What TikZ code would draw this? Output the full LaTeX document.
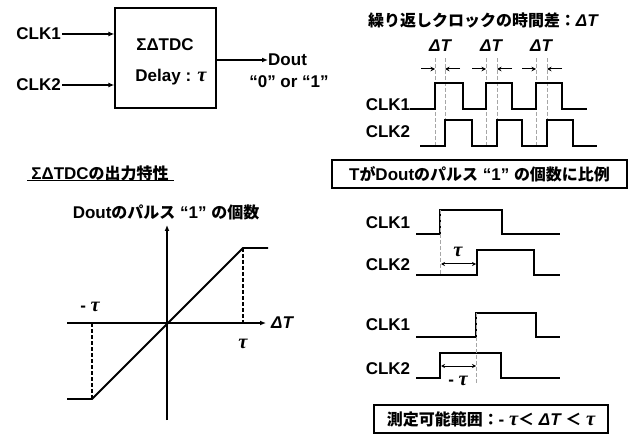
\documentclass[tikz,border=0pt]{standalone}
\usepackage{fontspec}
\setmainfont{Liberation Sans}
\newfontfamily\jp{Noto Sans CJK JP}[Scale=0.94]
\newfontfamily\serifgr{Liberation Serif}[Scale=1.2]
\usetikzlibrary{arrows.meta}
\newcommand\mytau{{\serifgr\bfseries\itshape τ}}
\newcommand\mydT{{\itshape ΔT}}
\begin{document}
\begin{tikzpicture}[x=1bp,y=-1bp,
  txt/.style={font=\bfseries\fontsize{17bp}{20bp}\selectfont, inner sep=0pt},
  arr/.style={line width=1.3bp, -{Latex[length=6bp,width=5bp]}},
  wave/.style={line width=1.8bp, line join=miter},
  gdash/.style={line width=1bp, dash pattern=on 4bp off 2bp, gray!70},
  kdash/.style={line width=1.2bp, dash pattern=on 4bp off 2bp},
  axis/.style={line width=1.8bp},
  dim/.style={line width=1bp, {Stealth[length=4bp,width=4bp]}-{Stealth[length=4bp,width=4bp]}},
  small/.style={line width=1bp, -{Stealth[length=4.5bp,width=4.5bp]}},
  framebox/.style={draw, line width=1.3bp, inner sep=0pt}
]
\useasboundingbox (0,0) rectangle (630,437);

% ---------- block diagram ----------
\node[framebox, minimum width=101bp, minimum height=100bp] (tdc) at (165.5,58) {};
\node[txt] (tdcname) at (165,45) {ΣΔTDC};
\node[txt] (tdcdelay) at (171,77) {Delay : \mytau};
\node[txt, anchor=east] (in1) at (61,34) {CLK1};
\node[txt, anchor=east] (in2) at (61,85) {CLK2};
\draw[arr] ([xshift=1bp]in1.east) -- (in1.east -| tdc.west);
\draw[arr] ([xshift=1bp]in2.east) -- (in2.east -| tdc.west);
\node[txt, anchor=west] (dout) at (268,60) {Dout};
\node[txt] (dval) at (289,82) {“0” or “1”};
\draw[arr] (tdc.east |- dout.west) -- (dout.west);

% ---------- repeated clock ----------
\node[txt] (ttl) at (483,20) {{\jp 繰り返しクロックの時間差：}\mydT};
\node[txt] (d1) at (440,46) {\mydT};
\node[txt] (d2) at (491,46) {\mydT};
\node[txt] (d3) at (541,46) {\mydT};
\foreach \a/\b [count=\i] in {435/445,486/497,536/547}{
  \coordinate (la\i) at (\a,69);
  \coordinate (lb\i) at (\b,69);
  \draw[gdash] (\a,58) -- (\a,147);
  \draw[gdash] (\b,58) -- (\b,147);
  \draw[small] ([xshift=-14bp]la\i) -- (la\i);
  \draw[small] ([xshift=15bp]lb\i) -- (lb\i);
}
\node[txt] (rc1) at (388,105) {CLK1};
\node[txt] (rc2) at (388,132) {CLK2};
\draw[wave] (410,109) -- (435,109) -- (435,83) -- (463,83) -- (463,109) -- (486,109) -- (486,83) -- (512,83) -- (512,109) -- (536,109) -- (536,83) -- (562,83) -- (562,109) -- (587,109);
\draw[wave] (420,146) -- (445,146) -- (445,120) -- (472,120) -- (472,146) -- (497,146) -- (497,120) -- (522,120) -- (522,146) -- (547,146) -- (547,120) -- (573,120) -- (573,146) -- (597,146);

% ---------- characteristic ----------
\node[txt] (head) at (100,173) {ΣΔTDC{\jp の出力特性}};
\draw[line width=1.2bp] (27,180.5) -- (174,180.5);
\node[txt] (ylab) at (166,212) {Dout{\jp のパルス} “1” {\jp の個数}};
\coordinate (ybot) at (167,420);
\coordinate (ytop) at (167,225);
\coordinate (xl) at (67,323);
\coordinate (xr) at (266,323);
\draw[axis, -{Latex[length=6bp,width=5bp]}] (ybot) -- (ytop);
\draw[axis, -{Latex[length=6bp,width=5bp]}] (xl) -- (xr);
\draw[axis] (67,399) -- (92,399) -- (243,248) -- (268,248);
\draw[kdash] (92,323) -- (92,399);
\draw[kdash] (243,248) -- (243,323);
\node[txt] (mt) at (90,307) {- \mytau};
\node[txt] (pt) at (243,344) {\mytau};
\node[txt] (xlab) at (282,323) {\mydT};

% ---------- proportional box ----------
\node[framebox, minimum width=295bp, minimum height=28bp, font=\bfseries\fontsize{17bp}{20bp}\selectfont] (prop) at (479.5,174) {T{\jp が}Dout{\jp のパルス} “1” {\jp の個数に比例}};

% ---------- positive tau ----------
\node[txt] (p1) at (388,223) {CLK1};
\node[txt] (p2) at (388,265) {CLK2};
\draw[wave] (416,234) -- (440,234) -- (440,210) -- (502,210) -- (502,234) -- (560,234);
\draw[wave] (416,275) -- (477,275) -- (477,250) -- (534,250) -- (534,275) -- (560,275);
\draw[gdash] (440,210) -- (440,276);
\coordinate (pa) at (441,264);
\coordinate (pb) at (476,264);
\draw[dim] (pa) -- (pb);
\node[txt] (ptau) at (458,252) {\mytau};

% ---------- negative tau ----------
\node[txt] (n1) at (388,325) {CLK1};
\node[txt] (n2) at (388,369) {CLK2};
\draw[wave] (416,337) -- (476,337) -- (476,313) -- (536,313) -- (536,337) -- (560,337);
\draw[wave] (416,378) -- (440,378) -- (440,353) -- (501,353) -- (501,378) -- (560,378);
\draw[gdash] (476,313) -- (476,385);
\coordinate (na) at (441,366);
\coordinate (nb) at (476,366);
\draw[dim] (na) -- (nb);
\node[txt] (ntau) at (458,381) {- \mytau};

% ---------- range box ----------
\node[framebox, minimum width=234bp, minimum height=28bp, font=\bfseries\fontsize{17bp}{20bp}\selectfont] (range) at (491,419) {{\jp 測定可能範囲：}- \mytau{\jp ＜}\;\mydT\;{\jp ＜}\;\mytau};
\end{tikzpicture}
\end{document}
